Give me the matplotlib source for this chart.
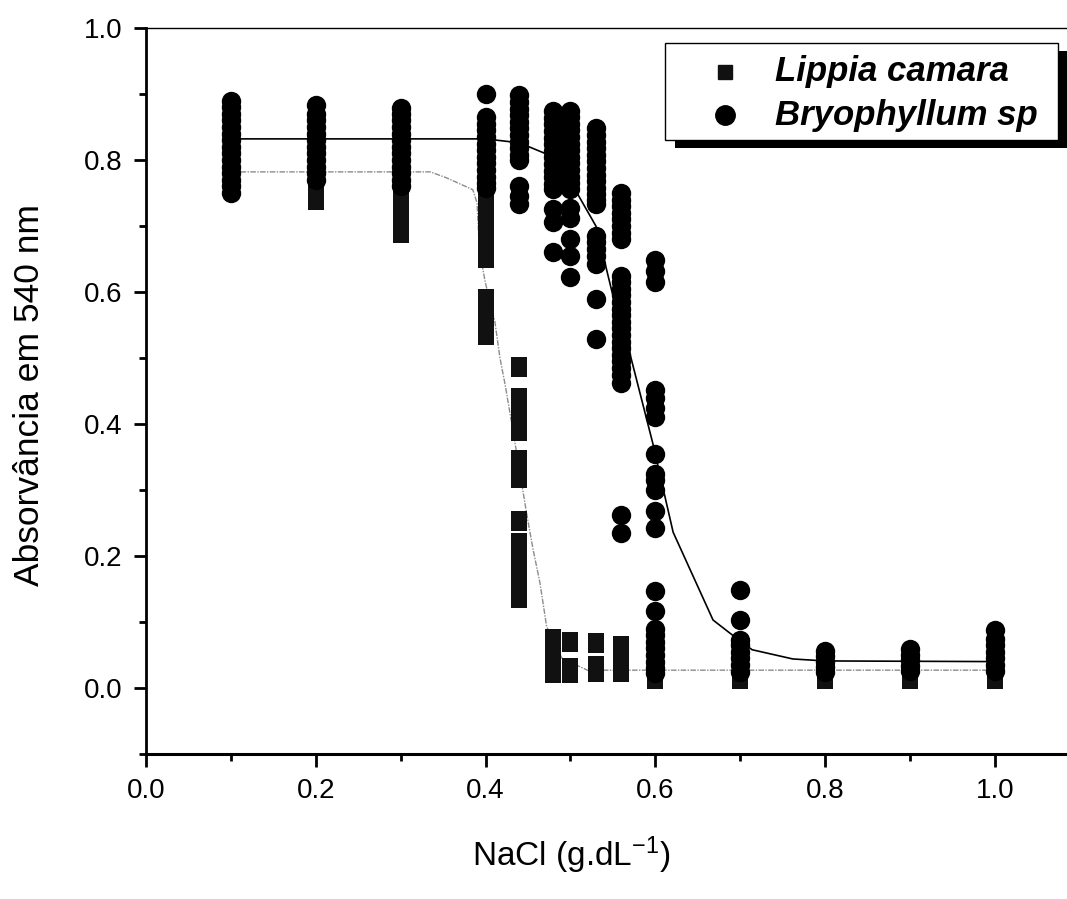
import matplotlib
matplotlib.use("Agg")
import matplotlib.pyplot as plt
from matplotlib.patches import Rectangle
from matplotlib.lines import Line2D
from matplotlib.ticker import MultipleLocator

plt.rcParams['font.family'] = ['Liberation Sans', 'DejaVu Sans']
plt.rcParams['mathtext.fontset'] = 'custom'
plt.rcParams['mathtext.rm'] = 'Liberation Sans'
plt.rcParams['mathtext.it'] = 'Liberation Sans:italic'

# ---------------- data ----------------
conc = [0.1, 0.2, 0.3, 0.4, 0.44, 0.48, 0.5, 0.53, 0.56, 0.6, 0.7, 0.8, 0.9, 1.0]

lippia_vals = [
    [0.80, 0.79, 0.78, 0.77, 0.76],
    [0.80, 0.79, 0.78, 0.77, 0.76, 0.75, 0.74],
    [0.80, 0.79, 0.78, 0.77, 0.76, 0.75, 0.74, 0.73, 0.72, 0.71, 0.70, 0.69],
    [0.75, 0.74, 0.73, 0.72, 0.71, 0.70, 0.69, 0.68, 0.651,
     0.59, 0.58, 0.57, 0.56, 0.55, 0.54, 0.535],
    [0.486, 0.44, 0.43, 0.42, 0.41, 0.40, 0.39, 0.345, 0.335, 0.325, 0.318,
     0.253, 0.22, 0.21, 0.20, 0.19, 0.18, 0.17, 0.16, 0.15, 0.14, 0.136],
    [0.074, 0.066, 0.056, 0.046, 0.036, 0.028, 0.023],
    [0.07, 0.031, 0.022],
    [0.068, 0.033, 0.024],
    [0.064, 0.033, 0.024],
    [0.03, 0.02, 0.013],
    [0.03, 0.02, 0.013],
    [0.03, 0.02, 0.013],
    [0.03, 0.02, 0.013],
    [0.03, 0.02, 0.013],
]

bryo_vals = [
    [0.89, 0.88, 0.87, 0.86, 0.85, 0.84, 0.83, 0.82, 0.81, 0.80, 0.79, 0.78, 0.77, 0.76, 0.75],
    [0.883, 0.87, 0.86, 0.85, 0.84, 0.83, 0.82, 0.81, 0.80, 0.79, 0.78, 0.77],
    [0.879, 0.87, 0.86, 0.85, 0.84, 0.83, 0.82, 0.81, 0.80, 0.79, 0.78, 0.77, 0.76],
    [0.90, 0.865, 0.855, 0.845, 0.835, 0.825, 0.815, 0.805, 0.795, 0.785, 0.775, 0.765, 0.758],
    [0.898, 0.888, 0.878, 0.868, 0.858, 0.848, 0.838, 0.828, 0.818, 0.808, 0.80,
     0.76, 0.745, 0.733],
    [0.874, 0.864, 0.854, 0.844, 0.834, 0.824, 0.814, 0.804, 0.794, 0.784, 0.774, 0.764, 0.756,
     0.726, 0.706, 0.66],
    [0.875, 0.865, 0.855, 0.845, 0.835, 0.825, 0.815, 0.805, 0.795, 0.785, 0.775, 0.765, 0.756,
     0.727, 0.712, 0.68, 0.655, 0.623],
    [0.848, 0.838, 0.828, 0.818, 0.808, 0.798, 0.788, 0.778, 0.768, 0.758, 0.748, 0.74, 0.733,
     0.685, 0.675, 0.665, 0.655, 0.642, 0.59, 0.529],
    [0.75, 0.74, 0.73, 0.72, 0.71, 0.70, 0.69, 0.68,
     0.625, 0.615, 0.605, 0.595, 0.585, 0.575, 0.565, 0.555, 0.545, 0.535, 0.525, 0.515,
     0.505, 0.495, 0.485, 0.475, 0.462, 0.262, 0.235],
    [0.648, 0.632, 0.615, 0.452, 0.44, 0.425, 0.41, 0.355, 0.325, 0.315, 0.30, 0.268, 0.243,
     0.147, 0.117, 0.09, 0.08, 0.07, 0.06, 0.05, 0.04, 0.03, 0.022],
    [0.149, 0.103, 0.073, 0.065, 0.055, 0.045, 0.035, 0.025],
    [0.056, 0.048, 0.04, 0.032, 0.025],
    [0.059, 0.05, 0.042, 0.034, 0.026],
    [0.088, 0.075, 0.065, 0.055, 0.045, 0.035, 0.026],
]

# fitted curves
lippia_fit_x = [0.10, 0.335, 0.354, 0.385, 0.39, 0.393, 0.40, 0.411, 0.417, 0.423, 0.431,
                0.449, 0.456, 0.464, 0.472, 0.49, 0.52, 0.60, 1.0]
lippia_fit_y = [0.782, 0.782, 0.773, 0.755, 0.735, 0.66, 0.613, 0.555, 0.50, 0.46, 0.40,
                0.26, 0.21, 0.16, 0.093, 0.045, 0.027, 0.027, 0.027]

bryo_fit_x = [0.10, 0.40, 0.44, 0.47, 0.49, 0.51, 0.53, 0.55, 0.57, 0.597, 0.611, 0.621,
              0.668, 0.688, 0.714, 0.762, 0.80, 1.0]
bryo_fit_y = [0.832, 0.832, 0.826, 0.81, 0.80, 0.745, 0.70, 0.595, 0.507, 0.371, 0.292, 0.236,
              0.103, 0.083, 0.058, 0.044, 0.041, 0.040]

labels = ['Lippia camara', 'Bryophyllum sp']
xticks = [0.0, 0.2, 0.4, 0.6, 0.8, 1.0]
yticks = [0.0, 0.2, 0.4, 0.6, 0.8, 1.0]

# ---------------- figure ----------------
W, H = 1067, 899
fig = plt.figure(figsize=(W / 100, H / 100), dpi=100)
ax = fig.add_axes([146 / W, (H - 754) / H, (W - 146) / W, (754 - 28) / H])

ax.plot(lippia_fit_x, lippia_fit_y, color='0.55', lw=1.0, ls=(0, (4, 1, 1, 1)), zorder=1)
ax.plot(bryo_fit_x, bryo_fit_y, color='black', lw=1.2, zorder=1)

lx = [c for c, vals in zip(conc, lippia_vals) for _ in vals]
ly = [v for vals in lippia_vals for v in vals]
bx = [c for c, vals in zip(conc, bryo_vals) for _ in vals]
by = [v for vals in bryo_vals for v in vals]

rect_marker = [(-0.4, -0.5), (0.4, -0.5), (0.4, 0.5), (-0.4, 0.5), (-0.4, -0.5)]
ax.scatter(lx, ly, marker=rect_marker, s=190, color='#111111', linewidths=0, zorder=2)
ax.scatter(bx, by, marker='o', s=195, color='black', linewidths=0, zorder=3)

ax.set_xlim(0, 1.085)
ax.set_ylim(-0.1, 1.0)
ax.set_xticks(xticks)
ax.set_xticklabels([f'{t:.1f}' for t in xticks])
ax.set_yticks(yticks)
ax.set_yticklabels([f'{t:.1f}' for t in yticks])
ax.xaxis.set_minor_locator(MultipleLocator(0.1))
ax.yaxis.set_minor_locator(MultipleLocator(0.1))
ax.tick_params(which='major', direction='out', length=9, width=2.0, labelsize=20, pad=8)
ax.tick_params(which='minor', direction='out', length=5, width=2.0)
ax.spines['right'].set_visible(False)
ax.spines['left'].set_linewidth(2.0)
ax.spines['bottom'].set_linewidth(2.2)
ax.spines['top'].set_linewidth(1.0)

fig.text(571 / W, 1 - 855 / H, 'NaCl (g.dL$^{-1}$)', ha='center', va='center', fontsize=24)
fig.text(30 / W, 1 - 395 / H, 'Absorvância em 540 nm', ha='center', va='center',
         rotation=90, fontsize=25.5)

# legend box with drop shadow (pixel coordinates, y from top)
bx0, by0, bx1, by1 = 665, 43, 1058, 140
def fy(y):
    return 1 - y / H
fig.add_artist(Rectangle(((bx0 + 10) / W, fy(by1 + 8)), (bx1 - bx0) / W, (by1 - by0) / H,
                         transform=fig.transFigure, facecolor='black', edgecolor='none', zorder=5))
fig.add_artist(Rectangle((bx0 / W, fy(by1)), (bx1 - bx0) / W, (by1 - by0) / H,
                         transform=fig.transFigure, facecolor='white', edgecolor='black',
                         linewidth=1.0, zorder=6))
fig.add_artist(Line2D([725 / W], [fy(72)], marker='s', markersize=10.5, color='#111111',
                      linestyle='none', transform=fig.transFigure, zorder=7))
fig.add_artist(Line2D([725 / W], [fy(115)], marker='o', markersize=14, color='black',
                      linestyle='none', transform=fig.transFigure, zorder=7))
for lab, yy in zip(labels, [72, 115]):
    fig.text(775 / W, fy(yy), lab, ha='left', va='center', fontsize=25,
             fontweight='bold', fontstyle='italic', zorder=7)

fig.savefig('out.png', dpi=100)
